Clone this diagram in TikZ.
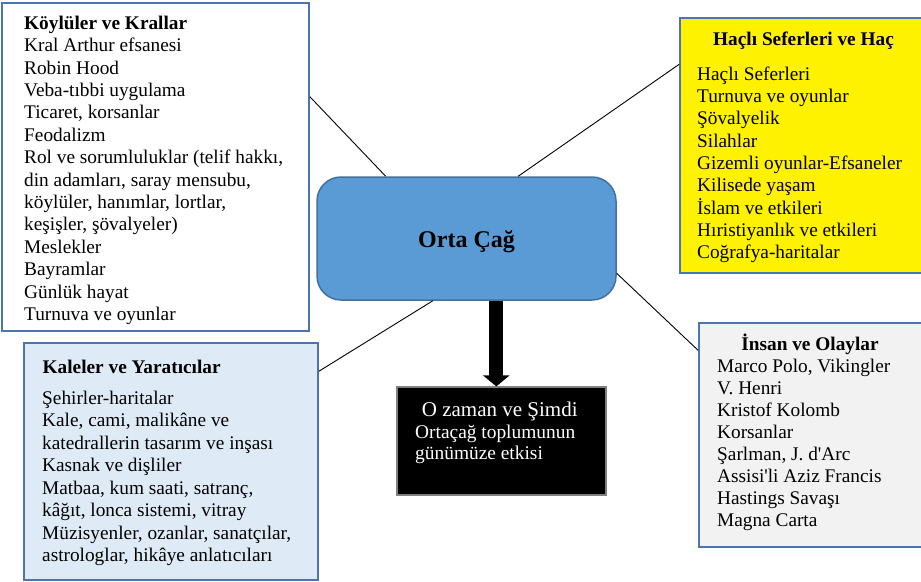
\documentclass[tikz,border=0pt]{standalone}
\usepackage{fontspec}
\setmainfont{Liberation Serif}
\usetikzlibrary{arrows.meta,calc}

\definecolor{edgeblue}{HTML}{41719C}
\definecolor{framecol}{HTML}{4A75AE}
\definecolor{hubfill}{HTML}{5B9BD5}
\definecolor{paleblue}{HTML}{DEEBF7}
\definecolor{palegray}{HTML}{F2F2F2}

% strut that fixes the height of the first line of every list
\newcommand\topstrut{\rule{0pt}{18pt}}

\tikzset{
  panel/.style={draw=framecol, line width=1.8pt, rectangle, inner sep=0pt},
  listtext/.style={anchor=north west, align=left, inner sep=0pt},
  headtext/.style={anchor=base, inner sep=0pt, font=\fontsize{19.3}{22.4}\selectfont\bfseries},
  link/.style={draw=black, line width=0.9pt},
}

\begin{document}
\begin{tikzpicture}[x=1pt, y=-1pt]
\useasboundingbox (0,0) rectangle (921,581);

% panels
\node[panel, fill=white, minimum width=307pt, minimum height=328pt] (kings) at (155.5,167) {};
\node[panel, fill=yellow, minimum width=242pt, minimum height=255pt] (crusade) at (801,145.5) {};
\node[panel, fill=paleblue, minimum width=294pt, minimum height=237pt] (castles) at (171,461.5) {};
\node[panel, fill=palegray, minimum width=223pt, minimum height=224pt] (people) at (810.5,435) {};
\node[draw=edgeblue, line width=1.5pt, fill=hubfill, rounded corners=24pt,
      minimum width=299pt, minimum height=123pt, inner sep=0pt] (hub) at (466.5,238.5) {};
\node[draw=gray, line width=1.2pt, fill=black, minimum width=209pt, minimum height=108pt,
      inner sep=0pt] (now) at (501.5,441) {};

% connectors from the hub to the panels
\draw[link] ($(kings.north east)!0.287!(kings.south east)$) -- ($(hub.north west)!0.231!(hub.north east)$);
\draw[link] ($(hub.north west)!0.672!(hub.north east)$) -- ($(crusade.north west)!0.184!(crusade.south west)$);
\draw[link] ($(hub.south west)!0.388!(hub.south east)$) -- ($(castles.north east)!0.122!(castles.south east)$);
\draw[link] ($(hub.north east)!0.78!(hub.south east)$) -- ($(people.north west)!0.125!(people.south west)$);

% thick arrow down to the black panel
\coordinate (axis) at (496.3,0);
\draw[line width=14pt, -{Triangle[width=26pt,length=11pt]}] (hub.south -| axis) -- (now.north -| axis);

% hub title
\node[anchor=base, inner sep=0pt, font=\fontsize{24}{28}\selectfont\bfseries] (hubtitle) at (466.5,247.5) {Orta Çağ};

% Köylüler ve Krallar
\node[listtext, font=\fontsize{19.3}{22.4}\selectfont] (kingslist) at (24,11) {%
\topstrut\textbf{Köylüler ve Krallar}\\
Kral Arthur efsanesi\\
Robin Hood\\
Veba-tıbbi uygulama\\
Ticaret, korsanlar\\
Feodalizm\\
Rol ve sorumluluklar (telif hakkı,\\
din adamları, saray mensubu,\\
köylüler, hanımlar, lortlar,\\
keşişler, şövalyeler)\\
Meslekler\\
Bayramlar\\
Günlük hayat\\
Turnuva ve oyunlar};

% Haçlı Seferleri ve Haç
\node[headtext] (crusadehead) at (803.5,45) {Haçlı Seferleri ve Haç};
\node[listtext, font=\fontsize{19.3}{22.35}\selectfont] (crusadelist) at (697,61.8) {%
\topstrut Haçlı Seferleri\\
Turnuva ve oyunlar\\
Şövalyelik\\
Silahlar\\
Gizemli oyunlar-Efsaneler\\
Kilisede yaşam\\
İslam ve etkileri\\
Hıristiyanlık ve etkileri\\
Coğrafya-haritalar};

% Kaleler ve Yaratıcılar
\node[headtext, anchor=base west] (castleshead) at (42.5,373.5) {Kaleler ve Yaratıcılar};
\node[listtext, font=\fontsize{19.3}{22.5}\selectfont] (castleslist) at (42,386.2) {%
\topstrut Şehirler-haritalar\\
Kale, cami, malikâne ve\\
katedrallerin tasarım ve inşası\\
Kasnak ve dişliler\\
Matbaa, kum saati, satranç,\\
kâğıt, lonca sistemi, vitray\\
Müzisyenler, ozanlar, sanatçılar,\\
astrologlar, hikâye anlatıcıları};

% İnsan ve Olaylar
\node[headtext] (peoplehead) at (810,350) {İnsan ve Olaylar};
\node[listtext, font=\fontsize{19.3}{22.1}\selectfont] (peoplelist) at (717,354) {%
\topstrut Marco Polo, Vikingler\\
V. Henri\\
Kristof Kolomb\\
Korsanlar\\
Şarlman, J. d\textquotesingle Arc\\
Assisi\textquotesingle li Aziz Francis\\
Hastings Savaşı\\
Magna Carta};

% O zaman ve Şimdi
\node[anchor=base west, inner sep=0pt, text=white, font=\fontsize{21}{24}\selectfont] (nowhead) at (421.7,416) {O zaman ve Şimdi};
\node[listtext, text=white, font=\fontsize{19.4}{21}\selectfont] (nowlist) at (415,420.3) {%
\topstrut Ortaçağ toplumunun\\
günümüze etkisi};
\end{tikzpicture}
\end{document}
